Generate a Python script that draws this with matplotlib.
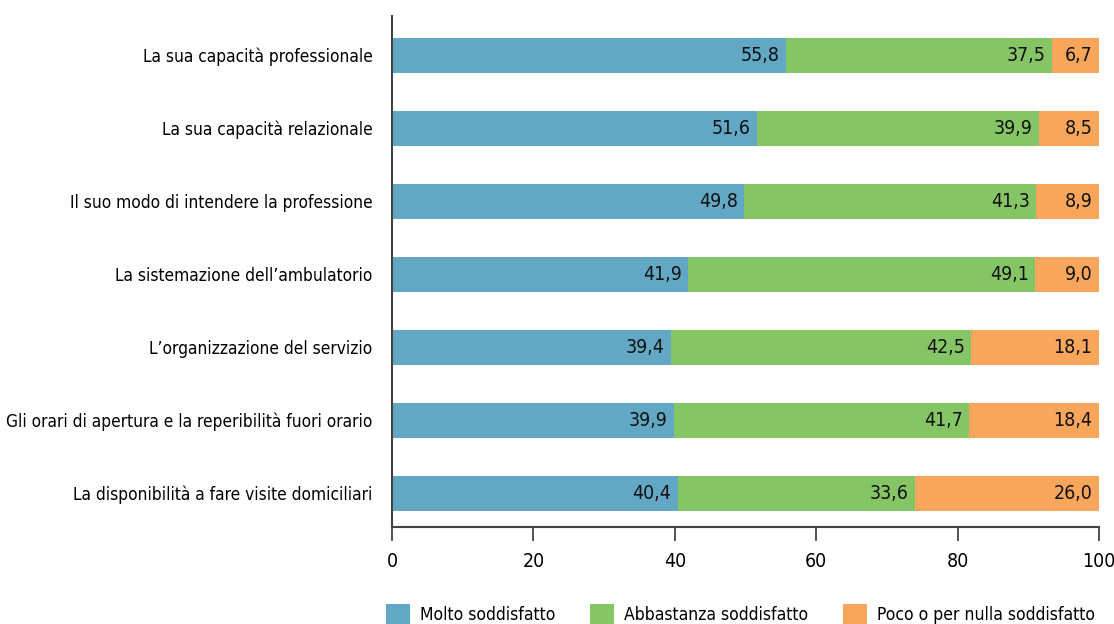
import matplotlib
matplotlib.use("Agg")
import matplotlib.pyplot as plt

categories = [
    "La sua capacità professionale",
    "La sua capacità relazionale",
    "Il suo modo di intendere la professione",
    "La sistemazione dell\u2019ambulatorio",
    "L\u2019organizzazione del servizio",
    "Gli orari di apertura e la reperibilità fuori orario",
    "La disponibilità a fare visite domiciliari",
]
molto = [55.8, 51.6, 49.8, 41.9, 39.4, 39.9, 40.4]
abbastanza = [37.5, 39.9, 41.3, 49.1, 42.5, 41.7, 33.6]
poco = [6.7, 8.5, 8.9, 9.0, 18.1, 18.4, 26.0]
series_names = ["Molto soddisfatto", "Abbastanza soddisfatto", "Poco o per nulla soddisfatto"]
colors = ["#62A8C5", "#86C566", "#F8A65C"]
xticks = [0, 20, 40, 60, 80, 100]

plt.rcParams["font.family"] = ["DejaVu Sans"]
plt.rcParams["font.stretch"] = "condensed"

fig = plt.figure(figsize=(11.14, 6.24), dpi=100)
ax = fig.add_axes([0.3519, 0.1554, 0.6346, 0.8186])

y = list(range(len(categories)))
left = [0] * len(categories)
handles = []
for vals, name, col in zip([molto, abbastanza, poco], series_names, colors):
    bars = ax.barh(y, vals, left=left, height=0.48, color=col, label=name)
    handles.append(bars)
    for yi, l, v in zip(y, left, vals):
        ax.text(l + v - 0.9, yi, f"{v:.1f}".replace(".", ","), ha="right", va="center",
                fontsize=14, color="#111111")
    left = [a + b for a, b in zip(left, vals)]

ax.set_xlim(0, 100)
ax.set_ylim(6.466, -0.534)
ax.set_yticks(y)
ax.set_yticklabels(categories, fontsize=12.4)
ax.set_xticks(xticks)
ax.set_xticklabels([str(t) for t in xticks], fontsize=14)
ax.tick_params(axis="y", length=0, pad=14)
ax.tick_params(axis="x", length=10, width=1.2, color="#333333", pad=8, direction="out")
for s in ["top", "right"]:
    ax.spines[s].set_visible(False)
for s in ["left", "bottom"]:
    ax.spines[s].set_color("#444444")
    ax.spines[s].set_linewidth(1.5)

fig.legend(handles=handles, labels=series_names, loc="lower left",
           bbox_to_anchor=(386 / 1114, 0.0), ncol=3, frameon=False, fontsize=12.6,
           borderpad=0, borderaxespad=0,
           handlelength=1.37, handleheight=1.37, columnspacing=2.0, handletextpad=0.57)

fig.savefig("out.png", dpi=100)
plt.close(fig)
